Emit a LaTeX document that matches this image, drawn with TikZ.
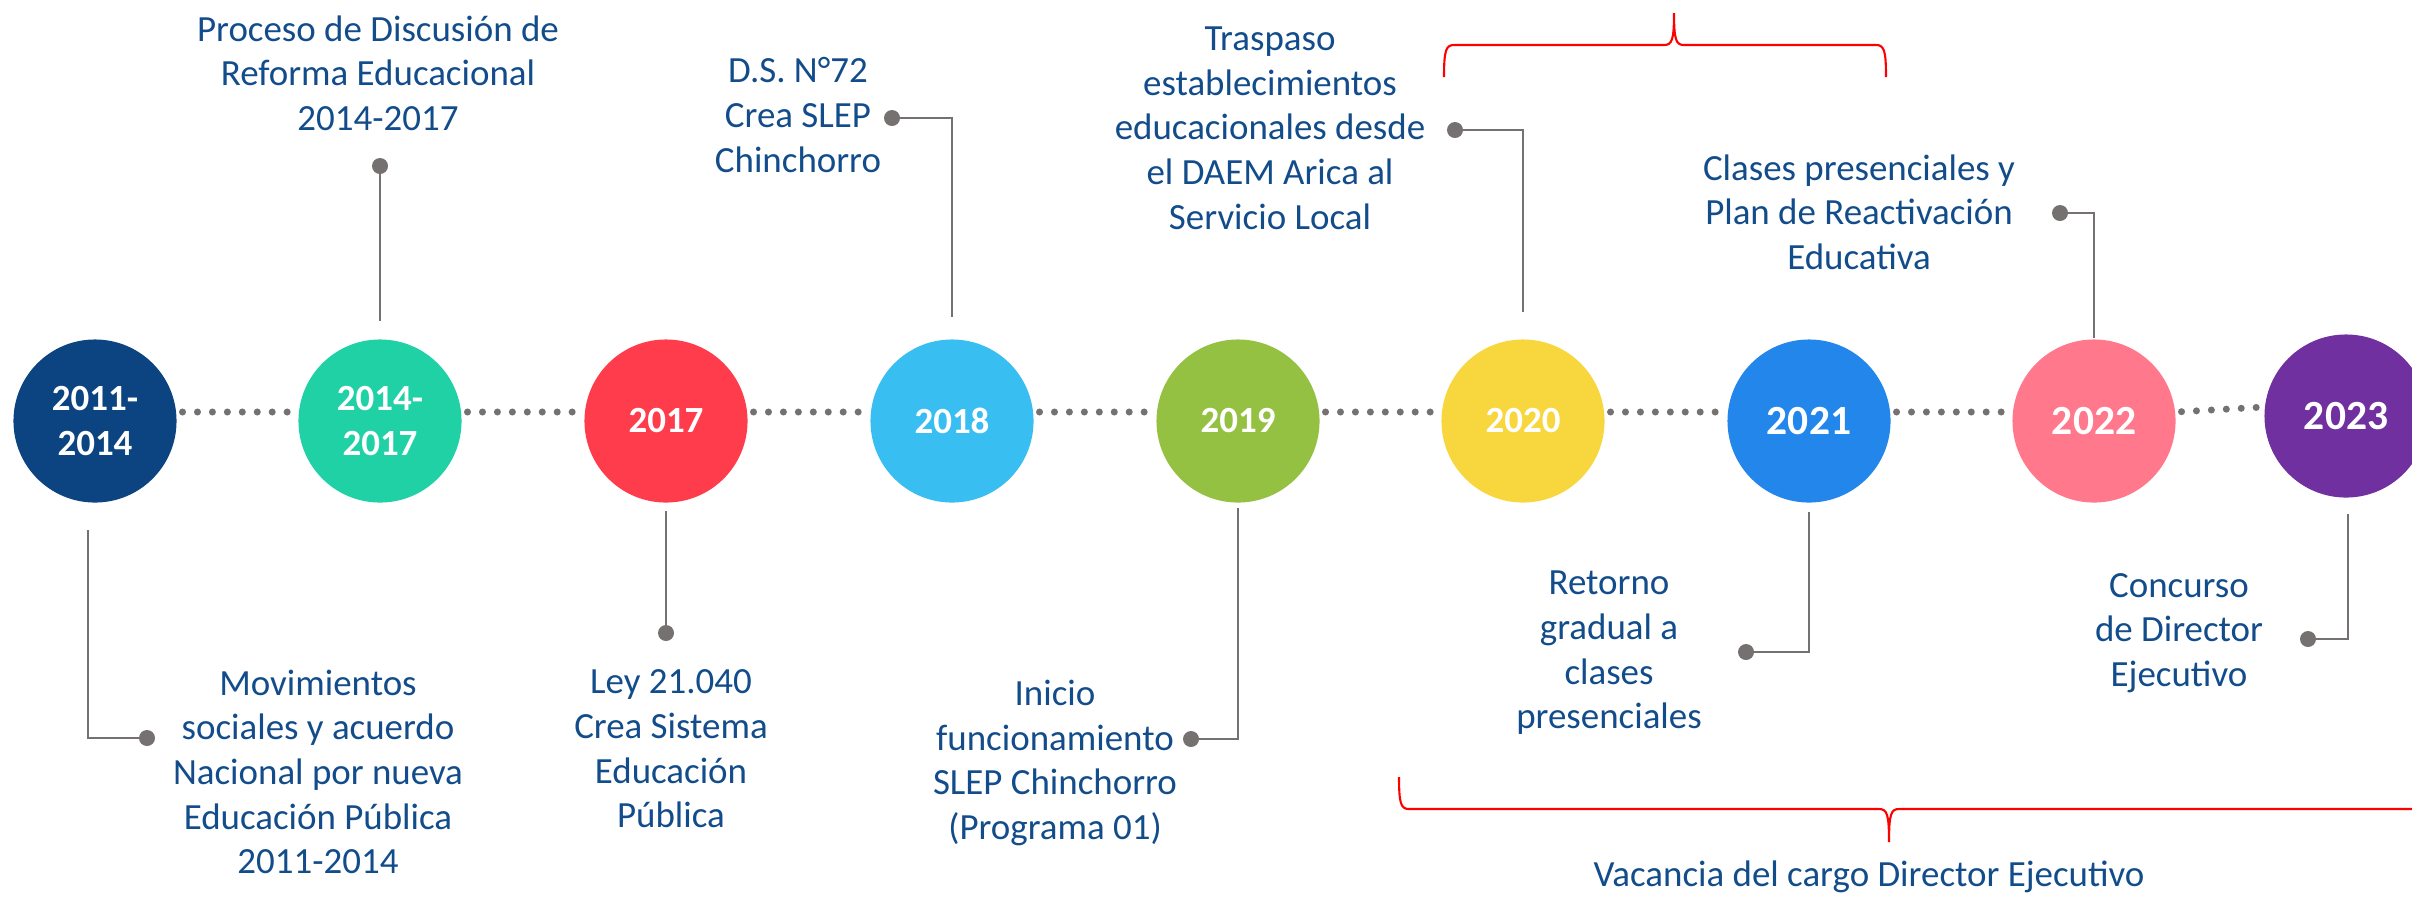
\documentclass[tikz,border=0pt]{standalone}
\usepackage{fontspec}
\setmainfont{Carlito}
\usetikzlibrary{calc}

\definecolor{yrnavy}{RGB}{11,68,128}
\definecolor{yrteal}{RGB}{32,209,166}
\definecolor{yrred}{RGB}{255,60,75}
\definecolor{yrsky}{RGB}{56,190,240}
\definecolor{yrgreen}{RGB}{148,193,66}
\definecolor{yryellow}{RGB}{248,215,62}
\definecolor{yrblue}{RGB}{35,134,235}
\definecolor{yrpink}{RGB}{255,120,140}
\definecolor{yrpurple}{RGB}{112,48,160}
\definecolor{txtblue}{RGB}{18,76,138}
\definecolor{linegray}{RGB}{118,113,113}
\definecolor{bracered}{RGB}{255,0,0}

\begin{document}
\begin{tikzpicture}[x=0.01cm,y=-0.01cm,
	year/.style={circle,minimum size=1.63cm,inner sep=0pt,text=white,align=center,
		font=\fontsize{10.5}{12.8}\selectfont\bfseries},
	bigyear/.style={year,font=\fontsize{11.8}{14}\selectfont\bfseries},
	txt/.style={text=txtblue,align=center,inner sep=0pt,font=\fontsize{10.5}{12.7}\selectfont},
	knob/.style={circle,fill=linegray,inner sep=0pt,minimum size=0.16cm},
	conn/.style={draw=linegray,line width=0.8pt},
	dotline/.style={linegray,line width=2pt,line cap=round,dash pattern=on 0pt off 4.25pt,
		shorten <=1.5pt,shorten >=1.5pt},
	redbrace/.style={bracered,line width=0.6pt}]
	\useasboundingbox (0,0) rectangle (2412,896);

	% years
	\node[year,fill=yrnavy] (y2011) at (95,421) {2011-\\2014};
	\node[year,fill=yrteal] (y2014) at (380,421) {2014-\\2017};
	\node[year,fill=yrred] (y2017) at (666,421) {2017};
	\node[year,fill=yrsky] (y2018) at (952,421) {2018};
	\node[year,fill=yrgreen] (y2019) at (1238,421) {2019};
	\node[year,fill=yryellow] (y2020) at (1523,421) {2020};
	\node[bigyear,fill=yrblue] (y2021) at (1809,421) {2021};
	\node[bigyear,fill=yrpink] (y2022) at (2094,421) {2022};
	\node[bigyear,fill=yrpurple] (y2023) at (2346,416) {2023};
	\foreach \a/\b in {y2011/y2014,y2014/y2017,y2017/y2018,y2018/y2019,
		y2019/y2020,y2020/y2021,y2021/y2022,y2022/y2023}
		\draw[dotline] ([yshift=0.09cm]\a.east) -- ([yshift=0.09cm]\b.west);

	% texts
	\node[txt] (t2011) at (318,772) {Movimientos\\sociales y acuerdo\\Nacional por nueva\\Educación Pública\\2011-2014};
	\node[txt] (t2014) at (378,73) {Proceso de Discusión de\\Reforma Educacional\\2014-2017};
	\node[txt] (t2017) at (671,749) {Ley 21.040\\Crea Sistema\\Educación\\Pública};
	\node[txt] (t2018) at (798,115) {D.S. N°72\\Crea SLEP\\Chinchorro};
	\node[txt] (t2019) at (1055,763) {Inicio\\funcionamiento\\SLEP Chinchorro\\(Programa 01)};
	\node[txt] (t2020) at (1270,128) {Traspaso\\establecimientos\\educacionales desde\\el DAEM Arica al\\Servicio Local};
	\node[txt] (t2021) at (1609,653) {Retorno\\gradual a\\clases\\presenciales};
	\node[txt] (t2022) at (1859,212) {Clases presenciales y\\Plan de Reactivación\\Educativa};
	\node[txt] (t2023) at (2179,633) {Concurso\\de Director\\Ejecutivo};
	\node[txt,anchor=base] (vac) at (1869,886) {Vacancia del cargo Director Ejecutivo};

	% connectors
	\node[knob] (p2011) at (147,738) {};
	\node[knob] (p2014) at (380,166) {};
	\node[knob] (p2017) at (666,633) {};
	\node[knob] (p2018) at (892,118) {};
	\node[knob] (p2019) at (1191,739) {};
	\node[knob] (p2020) at (1455,130) {};
	\node[knob] (p2021) at (1746,652) {};
	\node[knob] (p2022) at (2060,213) {};
	\node[knob] (p2023) at (2308,639) {};
	\draw[conn] ($(y2011.south)+(-7,27)$) |- (p2011.center);
	\draw[conn] ($(y2014.north)+(0,-18)$) -- (p2014.center);
	\draw[conn] ($(y2017.south)+(0,8)$) -- (p2017.center);
	\draw[conn] ($(y2018.north)+(0,-22)$) |- (p2018.center);
	\draw[conn] ($(y2019.south)+(0,5)$) |- (p2019.center);
	\draw[conn] ($(y2020.north)+(0,-27)$) |- (p2020.center);
	\draw[conn] ($(y2021.south)+(0,9)$) |- (p2021.center);
	\draw[conn] ($(y2022.north)+(0,-1)$) |- (p2022.center);
	\draw[conn] ($(y2023.south)+(2,16)$) |- (p2023.center);

	% braces
	\draw[redbrace] (1444,77) .. controls (1444,50) and (1446,45) .. (1454,45) -- (1664,45)
		.. controls (1672,45) and (1674,40) .. (1674,13)
		.. controls (1674,40) and (1676,45) .. (1684,45) -- (1876,45)
		.. controls (1884,45) and (1886,50) .. (1886,77);
	\draw[redbrace] (1399,777) .. controls (1399,804) and (1401,809) .. (1409,809) -- (1879,809)
		.. controls (1887,809) and (1889,814) .. (1889,842)
		.. controls (1889,814) and (1891,809) .. (1899,809) -- (2440,809);
\end{tikzpicture}
\end{document}
